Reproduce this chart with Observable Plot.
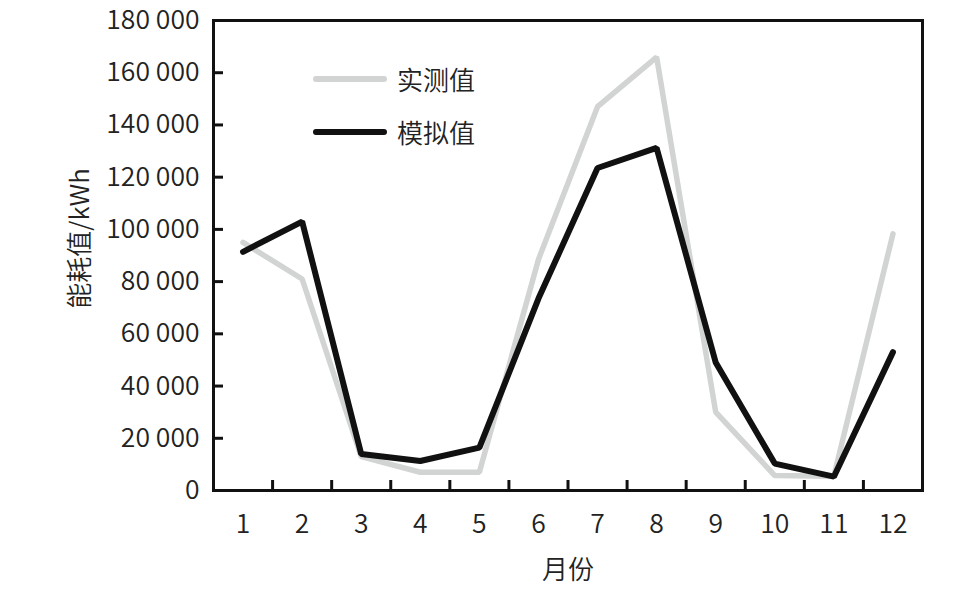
<!DOCTYPE html>
<html>
<head>
<meta charset="utf-8">
<script src="https://cdn.jsdelivr.net/npm/d3@7"></script>
<script src="https://cdn.jsdelivr.net/npm/@observablehq/plot@0.6"></script>
<style>
  html, body { margin: 0; padding: 0; background: #fff; }
  #wrap { position: relative; width: 969px; height: 599px; font-family: "Noto Sans CJK SC", sans-serif; }
  #legend { position: absolute; left: 313px; top: 52px; font-size: 26px; color: #222; font-weight: 350; }
  .item { display: flex; align-items: center; height: 53px; }
  .item svg { margin-right: 10px; }
  svg text { font-weight: 350; }
  svg { overflow: visible; }
</style>
</head>
<body>
<div id="wrap"></div>
<script>
const months = [1, 2, 3, 4, 5, 6, 7, 8, 9, 10, 11, 12];
const measured = [95000, 81000, 13000, 7000, 7000, 88500, 147000, 166000, 30000, 5700, 5500, 98300];
const simulated = [91400, 103000, 14000, 11300, 16400, 73500, 123500, 131200, 49000, 10300, 5300, 53000];
const yTicks = [0, 20000, 40000, 60000, 80000, 100000, 120000, 140000, 160000, 180000];
const xTickMarks = [1.5, 2.5, 3.5, 4.5, 5.5, 6.5, 7.5, 8.5, 9.5, 10.5, 11.5];
const seriesNames = ["实测值", "模拟值"];
const seriesColors = ["#d2d4d4", "#111111"];
const xLabel = "月份";
const yLabel = "能耗值/kWh";

const fmt = d3.formatLocale({decimal: ".", thousands: " ", grouping: [3], currency: ["", ""]}).format(",");

const mData = months.map((m, i) => ({month: m, value: measured[i]}));
const sData = months.map((m, i) => ({month: m, value: simulated[i]}));

const font = "Noto Sans CJK SC";
const chart = Plot.plot({
  width: 969,
  height: 599,
  marginLeft: 213,
  marginRight: 47,
  marginTop: 20,
  marginBottom: 109,
  style: {fontFamily: font, fontSize: "26px", color: "#222", background: "#fff"},
  x: {domain: [0.5, 12.5]},
  y: {domain: [0, 180000]},
  marks: [
    Plot.line(mData, {x: "month", y: "value", stroke: seriesColors[0], strokeWidth: 5.5, strokeLinejoin: "miter"}),
    Plot.line(sData, {x: "month", y: "value", stroke: seriesColors[1], strokeWidth: 6, strokeLinejoin: "miter"}),
    Plot.axisY({ticks: yTicks, tickSize: 0, tickPadding: 14, tickFormat: fmt, label: null, fontSize: 26.5}),
    Plot.axisY({ticks: yTicks, tickSize: -10, text: null, label: null, strokeWidth: 3, stroke: "#111"}),
    Plot.axisX({ticks: months, tickSize: 0, tickPadding: 24, tickFormat: d => String(d), label: null, fontSize: 26.5}),
    Plot.axisX({ticks: xTickMarks, tickSize: -10, text: null, label: null, strokeWidth: 3, stroke: "#111"}),
    Plot.frame({stroke: "#111", strokeWidth: 3}),
    Plot.text([xLabel], {text: d => d, frameAnchor: "bottom", dy: 88, fontSize: 26, fill: "#222"}),
    Plot.text([yLabel], {text: d => d, frameAnchor: "left", textAnchor: "middle", rotate: -90, dx: -133, dy: -17, fontSize: 26, fill: "#222"})
  ]
});

const wrap = document.getElementById("wrap");
wrap.appendChild(chart);

const legend = document.createElement("div");
legend.id = "legend";
seriesNames.forEach((name, i) => {
  const item = document.createElement("div");
  item.className = "item";
  item.innerHTML = `<svg width="74" height="10"><line x1="3" y1="5" x2="71" y2="5" stroke="${seriesColors[i]}" stroke-width="6" stroke-linecap="round"/></svg><span>${name}</span>`;
  legend.appendChild(item);
});
wrap.appendChild(legend);
</script>
</body>
</html>
